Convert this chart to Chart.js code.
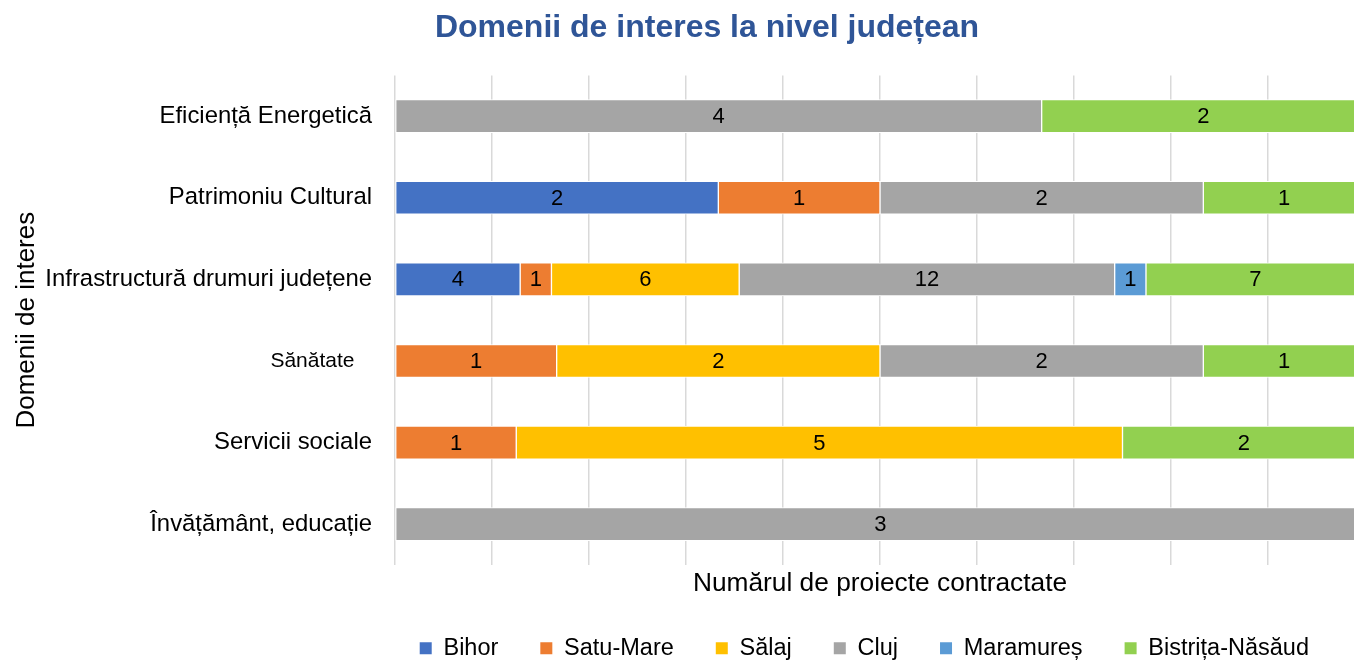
<!DOCTYPE html>
<html>
<head>
<meta charset="utf-8">
<script src="https://cdn.jsdelivr.net/npm/chart.js@4.4.1/dist/chart.umd.min.js"></script>
<style>
  html, body { margin: 0; padding: 0; background: #fff; overflow: hidden; }
  #wrap { width: 1354px; height: 661px; overflow: hidden; position: relative; }
  canvas { display: block; }
</style>
</head>
<body>
<div id="wrap">
  <canvas id="chart" width="1414" height="661"></canvas>
</div>
<script>
// categories, top to bottom
const categories = [
  'Eficiență Energetică',
  'Patrimoniu Cultural',
  'Infrastructură drumuri județene',
  'Sănătate   ',
  'Servicii sociale',
  'Învățământ, educație'
];

// number of contracted projects per county
const bihor     = [0, 2, 4, 0, 0, 0];
const satuMare  = [0, 1, 1, 1, 1, 0];
const salaj     = [0, 0, 6, 2, 5, 0];
const cluj      = [4, 2, 12, 2, 0, 3];
const maramures = [0, 0, 1, 0, 0, 0];
const bistrita  = [2, 1, 7, 1, 2, 0];

const seriesNames = ['Bihor', 'Satu-Mare', 'Sălaj', 'Cluj', 'Maramureș', 'Bistrița-Năsăud'];
const seriesValues = [bihor, satuMare, salaj, cluj, maramures, bistrita];
const seriesColors = ['#4472C4', '#ED7D31', '#FFC000', '#A5A5A5', '#5B9BD5', '#92D050'];

const FONT = '"Liberation Sans", Arial, Helvetica, sans-serif';
Chart.defaults.font.family = FONT;
Chart.defaults.color = '#000';

// 100% stacked: each row is normalised to its total
const totals = categories.map((c, j) => seriesValues.reduce((s, arr) => s + arr[j], 0));

const datasets = seriesNames.map((name, i) => ({
  label: name,
  counts: seriesValues[i],
  data: seriesValues[i].map((v, j) => v ? v / totals[j] * 100 : null),
  backgroundColor: seriesColors[i],
  borderColor: '#ffffff',
  borderWidth: 1,
  borderSkipped: false,
  barThickness: 33
}));

const valueLabels = {
  id: 'valueLabels',
  afterDatasetsDraw(chart) {
    const ctx = chart.ctx;
    ctx.save();
    ctx.font = '22px ' + FONT;
    ctx.fillStyle = '#000';
    ctx.textAlign = 'center';
    ctx.textBaseline = 'middle';
    chart.data.datasets.forEach((ds, i) => {
      const meta = chart.getDatasetMeta(i);
      meta.data.forEach((bar, j) => {
        const v = ds.counts[j];
        if (!v) return;
        const p = bar.getCenterPoint();
        ctx.fillText(String(v), p.x, p.y + 1);
      });
    });
    ctx.restore();
  }
};

// title is centred on the whole (uncropped) chart, legend ends a bit left of the plot edge
const boxShift = {
  id: 'boxShift',
  afterLayout(chart) {
    chart.titleBlock.left += 49;
    chart.legend.right -= 14;
  }
};

new Chart(document.getElementById('chart'), {
  type: 'bar',
  data: { labels: categories, datasets: datasets },
  options: {
    indexAxis: 'y',
    responsive: false,
    animation: false,
    layout: { padding: { left: 0, right: 49, top: 0, bottom: -9 } },
    plugins: {
      title: {
        display: true,
        text: 'Domenii de interes la nivel județean',
        color: '#2F5597',
        font: { size: 32, weight: 'bold' },
        padding: { top: 9, bottom: 28 }
      },
      legend: {
        position: 'bottom',
        align: 'end',
        labels: {
          boxWidth: 12,
          boxHeight: 12,
          padding: 42,
          color: '#000',
          font: { size: 23.5 },
          generateLabels(chart) {
            return Chart.defaults.plugins.legend.labels.generateLabels(chart).map(item => {
              item.lineWidth = 0;
              item.strokeStyle = 'transparent';
              return item;
            });
          }
        }
      },
      tooltip: { enabled: false }
    },
    scales: {
      x: {
        stacked: true,
        min: 0,
        max: 100,
        ticks: { display: false, stepSize: 10 },
        grid: { color: '#d9d9d9', lineWidth: 1.5, drawTicks: false },
        border: { display: false },
        title: {
          display: true,
          text: 'Numărul de proiecte contractate',
          color: '#000',
          font: { size: 26.3 },
          padding: { top: 3, bottom: -5 }
        }
      },
      y: {
        stacked: true,
        grid: { display: false, drawTicks: false },
        border: { display: false },
        ticks: {
          padding: 23,
          color: '#000',
          font: (ctx) => ctx.index === 3 ? { size: 21 } : { size: 23.9 }
        },
        title: {
          display: true,
          text: 'Domenii de interes',
          color: '#000',
          font: { size: 26 },
          padding: { top: 11, bottom: 0 }
        },
        afterFit(scale) {
          scale.width = 395;
        }
      }
    }
  },
  plugins: [valueLabels, boxShift]
});
</script>
</body>
</html>
